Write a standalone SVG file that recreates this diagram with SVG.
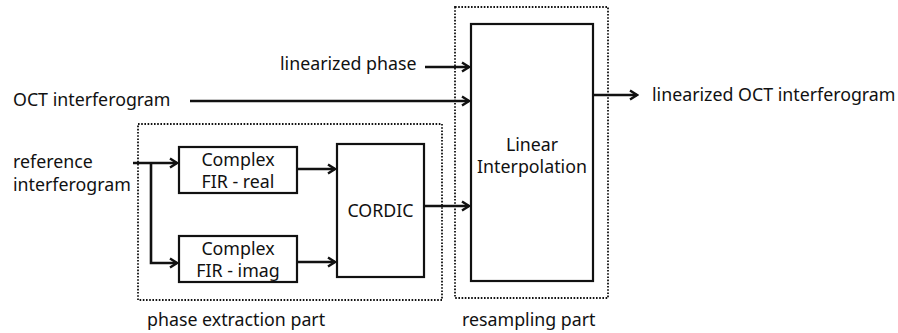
<svg xmlns="http://www.w3.org/2000/svg" width="898" height="333" viewBox="0 0 898 333">
  <style>
    text { font-family: "Noto Sans", "Open Sans", sans-serif; font-size: 17.8px; fill: #111; }
    .box { fill: #fff; stroke: #111; stroke-width: 2.2; }
    .group { fill: none; stroke: #111; stroke-width: 1.8; stroke-dasharray: 1.6 1.6; }
    .wire { fill: none; stroke: #111; stroke-width: 2.6; }
    .mid { text-anchor: middle; }
  </style>
  <defs>
    <marker id="arrow" viewBox="0 0 12 12" refX="10" refY="6" markerWidth="12" markerHeight="12" markerUnits="userSpaceOnUse" orient="auto">
      <polyline points="3,1.5 10,6 3,10.5" fill="none" stroke="#111" stroke-width="2.4"/>
    </marker>
  </defs>

  <!-- dotted grouping frames -->
  <g id="phase-extraction-part">
    <rect class="group" x="138" y="124" width="304" height="176"/>
    <text x="147" y="326">phase extraction part</text>
  </g>
  <g id="resampling-part">
    <rect class="group" x="455" y="7" width="153" height="291"/>
    <text x="462" y="326">resampling part</text>
  </g>

  <!-- processing blocks -->
  <g id="fir-real">
    <rect class="box" x="179" y="147" width="118" height="46"/>
    <text class="mid" x="238" y="166">Complex</text>
    <text class="mid" x="238" y="188">FIR - real</text>
  </g>
  <g id="fir-imag">
    <rect class="box" x="179" y="236" width="118" height="46"/>
    <text class="mid" x="238" y="255">Complex</text>
    <text class="mid" x="238" y="277">FIR - imag</text>
  </g>
  <g id="cordic">
    <rect class="box" x="337" y="144" width="87" height="133"/>
    <text class="mid" x="380.5" y="217">CORDIC</text>
  </g>
  <g id="linear-interpolation">
    <rect class="box" x="471" y="24" width="122" height="257"/>
    <text class="mid" x="532" y="151">Linear</text>
    <text class="mid" x="532" y="173">Interpolation</text>
  </g>

  <!-- signal labels -->
  <g id="labels">
    <text x="280" y="70">linearized phase</text>
    <text x="13" y="106">OCT interferogram</text>
    <text x="13" y="168">reference</text>
    <text x="13" y="191">interferogram</text>
    <text x="652" y="101">linearized OCT interferogram</text>
  </g>

  <!-- connectors -->
  <g id="connectors">
    <line class="wire" x1="425" y1="67" x2="469" y2="67" marker-end="url(#arrow)"/>
    <line class="wire" x1="190" y1="101" x2="469" y2="101" marker-end="url(#arrow)"/>
    <line class="wire" x1="133" y1="163" x2="177" y2="163" marker-end="url(#arrow)"/>
    <polyline class="wire" points="151,163 151,263 177,263" marker-end="url(#arrow)"/>
    <line class="wire" x1="297" y1="169" x2="335" y2="169" marker-end="url(#arrow)"/>
    <line class="wire" x1="297" y1="262" x2="335" y2="262" marker-end="url(#arrow)"/>
    <line class="wire" x1="424" y1="206" x2="469" y2="206" marker-end="url(#arrow)"/>
    <line class="wire" x1="593" y1="95" x2="637" y2="95" marker-end="url(#arrow)"/>
  </g>
</svg>
